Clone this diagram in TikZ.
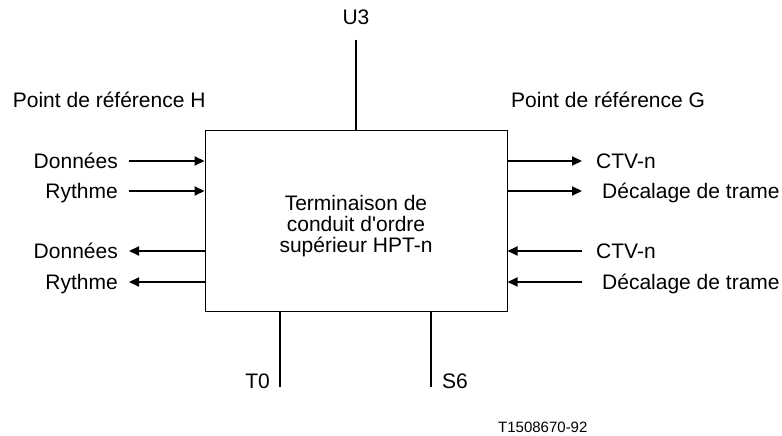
\documentclass[tikz,border=0pt]{standalone}
\usepackage{fontspec}
\setmainfont{Liberation Sans}
\usetikzlibrary{arrows.meta}

\begin{document}
\begin{tikzpicture}[x=1bp, y=-1bp, >={Triangle[length=10bp,width=9bp]},
                    every node/.style={font=\fontsize{21bp}{21bp}\selectfont, inner sep=0pt},
                    sig/.style={->, line width=2bp},
                    stub/.style={line width=2bp},
                    lbl/.style={text height=16bp, text depth=0pt}]

  \useasboundingbox (0,0) rectangle (782,436);

  %--- bloc HPT ---
  \node[draw, line width=1bp, minimum width=302bp, minimum height=180bp] (hpt) at (356,221) {};
  \node[align=center] (hptlbl) at (356,226) {Terminaison de\\conduit d\textquotesingle ordre\\supérieur HPT-n};

  %--- points de référence ---
  \node[anchor=base west] (refH) at (12.7,108) {Point de référence H};
  \node[anchor=base west] (refG) at (511,108) {Point de référence G};

  %--- U3 (haut) ---
  \node[anchor=base] (u3) at (356,25) {U3};
  \coordinate (u3end) at (356,40);
  \draw[stub] (u3end) -- (hpt.north);

  %--- côté H ---
  \node[lbl, anchor=base east] (datIn)  at (118,169) {Données};
  \node[lbl, anchor=base east] (clkIn)  at (118,199) {Rythme};
  \node[lbl, anchor=base east] (datOut) at (118,259) {Données};
  \node[lbl, anchor=base east] (clkOut) at (118,290) {Rythme};

  \draw[sig] ([xshift=11bp]datIn.east) -- (datIn.east -| hpt.west);
  \draw[sig] ([xshift=11bp]clkIn.east) -- (clkIn.east -| hpt.west);
  \draw[sig] (datOut.east -| hpt.west) -- ([xshift=11bp]datOut.east);
  \draw[sig] (clkOut.east -| hpt.west) -- ([xshift=11bp]clkOut.east);

  %--- côté G ---
  \node[lbl, anchor=base west] (ctvOut) at (596,169) {CTV-n};
  \node[lbl, anchor=base west] (decOut) at (602,199) {Décalage de trame};
  \node[lbl, anchor=base west] (ctvIn)  at (596,259) {CTV-n};
  \node[lbl, anchor=base west] (decIn)  at (602,290) {Décalage de trame};

  \draw[sig] (ctvOut.west -| hpt.east) -- ([xshift=-14bp]ctvOut.west);
  \draw[sig] (decOut.west -| hpt.east) -- ([xshift=-20bp]decOut.west);
  \draw[sig] ([xshift=-14bp]ctvIn.west) -- (ctvIn.west -| hpt.east);
  \draw[sig] ([xshift=-20bp]decIn.west) -- (decIn.west -| hpt.east);

  %--- T0 et S6 (bas) ---
  \node[anchor=base east] (t0) at (270,388) {T0};
  \node[anchor=base west] (s6) at (442,388) {S6};
  \coordinate (t0end) at (280,387);
  \coordinate (s6end) at (431,387);
  \draw[stub] (hpt.south -| t0end) -- (t0end);
  \draw[stub] (hpt.south -| s6end) -- (s6end);

  %--- référence ---
  \node[anchor=base west, font=\fontsize{15bp}{15bp}\selectfont] (tag) at (498,432) {T1508670-92};

\end{tikzpicture}
\end{document}
